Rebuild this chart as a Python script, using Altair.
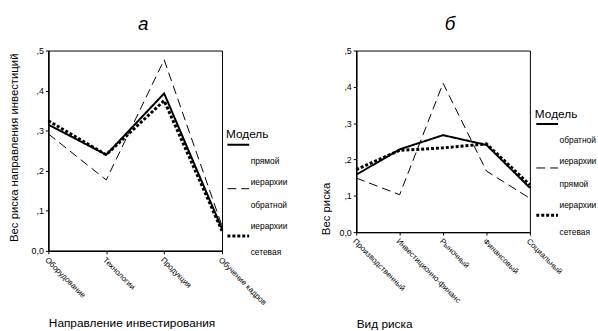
import altair as alt
import pandas as pd

FONT = "Liberation Sans"

# ---- data ----
left_categories = ["Оборудование", "Технологии", "Продукция", "Обучение кадров"]
left_direct = [0.315, 0.240, 0.393, 0.055]    # прямой иерархии (solid)
left_inverse = [0.292, 0.177, 0.477, 0.062]   # обратной иерархии (dashed)
left_network = [0.325, 0.240, 0.375, 0.050]   # сетевая (dotted)

right_categories = ["Производственный", "Инвестиционно-финанс", "Рыночный", "Финансовый", "Социальный"]
right_inverse = [0.158, 0.228, 0.267, 0.240, 0.122]  # обратной иерархии (solid)
right_direct = [0.149, 0.103, 0.410, 0.168, 0.093]   # прямой иерархии (dashed)
right_network = [0.172, 0.225, 0.232, 0.243, 0.130]  # сетевая (dotted)

y_ticks = [0.0, 0.1, 0.2, 0.3, 0.4, 0.5]

m_direct = "прямой иерархии"
m_inverse = "обратной иерархии"
m_network = "сетевая"


def make_df(cats, series):
    rows = []
    for name, vals in series:
        for c, v in zip(cats, vals):
            rows.append({"cat": c, "val": v, "model": name})
    return pd.DataFrame(rows)


left_df = make_df(left_categories, [(m_direct, left_direct), (m_inverse, left_inverse), (m_network, left_network)])
right_df = make_df(right_categories, [(m_inverse, right_inverse), (m_direct, right_direct), (m_network, right_network)])

y_label_expr = "datum.value == 0 ? '0,0' : replace(format(datum.value, '.1f'), '0.', ',')"
SP = "\u2800"  # blank spacer line between the two words of a legend label
legend_label_expr = ("indexof(datum.label, ' ') > 0 ? "
                     "[split(datum.label, ' ')[0], '" + SP + "', split(datum.label, ' ')[1]] : "
                     "[datum.label, '" + SP + "', '" + SP + "']")

# scale domain order: dashed, solid, dotted
dash_range = [[9, 5], [1, 0], [3, 2]]
width_range = [1, 3]
legend_symbol = "M-1,-1.5L1,-1.5"


def panel(df, cats, solid_m, dashed_m, title_text, title_dx, xtitle, ytitle, height,
          ytitle_x, ytitle_y, xtitle_y, legend_x, legend_y):
    domain = [dashed_m, solid_m, m_network]
    legend = alt.Legend(
        title="Модель", orient="none", legendX=legend_x, legendY=legend_y,
        values=[solid_m, dashed_m, m_network],
        titleFont=FONT, titleFontSize=12, titleFontWeight="normal", titleColor="black",
        titlePadding=8,
        labelFont=FONT, labelFontSize=8.5, labelColor="black", labelBaseline="middle",
        labelExpr=legend_label_expr, labelOffset=0, labelLimit=200,
        symbolSize=484, symbolStrokeColor="black", symbolType=legend_symbol,
        symbolFillColor="transparent",
        rowPadding=0, padding=0,
    )
    x_axis = alt.Axis(
        labelAngle=45, labelAlign="left", labelBaseline="top", labelFont=FONT,
        labelFontSize=8, labelColor="black", labelPadding=2, labelOverlap=False,
        labelFlush=False, labelBound=False, labelLimit=300,
        tickSize=3, tickColor="black", domainColor="black", domainWidth=1.5, grid=False,
        title=xtitle, titleFont=FONT, titleFontSize=12, titleFontWeight="normal",
        titleColor="black", titleAlign="left", titleX=0, titleY=xtitle_y,
        titleBaseline="middle",
    )
    y_axis = alt.Axis(
        values=y_ticks, labelExpr=y_label_expr, labelFont=FONT, labelFontSize=9,
        labelColor="black", labelPadding=2, tickSize=3, tickColor="black",
        domainColor="black", domainWidth=1.5, grid=False,
        title=ytitle, titleFont=FONT, titleFontSize=11.5, titleFontWeight="normal",
        titleColor="black", titleX=ytitle_x, titleY=ytitle_y, titleAlign="center",
        titleBaseline="middle",
    )
    return alt.Chart(df).mark_line(color="black", strokeCap="butt").encode(
        x=alt.X("cat:N", sort=cats, scale=alt.Scale(type="point", padding=0), axis=x_axis),
        y=alt.Y("val:Q", scale=alt.Scale(domain=[0, 0.5], nice=False), axis=y_axis),
        strokeDash=alt.StrokeDash("model:N", scale=alt.Scale(domain=domain, range=dash_range), legend=legend),
        strokeWidth=alt.StrokeWidth("model:N", scale=alt.Scale(domain=domain, range=width_range), legend=legend),
    ).properties(
        width=176, height=height,
        title=alt.Title(title_text, font=FONT, fontSize=19, fontStyle="italic",
                        fontWeight="normal", color="black", anchor="middle", dx=title_dx, offset=13),
    )


left = panel(left_df, left_categories, m_direct, m_inverse, "а", 8,
             "Направление инвестирования", "Вес риска направления инвестиций", 203,
             -34.5, 98, 73, 180, 80)
right = panel(right_df, right_categories, m_inverse, m_direct, "б", 7,
              "Вид риска", "Вес риска", 184,
              -30, 160, 93, 181, 59)

chart = alt.hconcat(left, right, spacing=31).resolve_scale(
    strokeDash="independent", strokeWidth="independent"
).resolve_legend(
    strokeDash="independent", strokeWidth="independent"
).configure(
    padding={"left": 7, "top": 12, "right": 0, "bottom": 0},
    background="white",
).configure_view(
    stroke="black", strokeWidth=1
)

chart.save("out.html", embed_options={"renderer": "svg", "actions": False})
